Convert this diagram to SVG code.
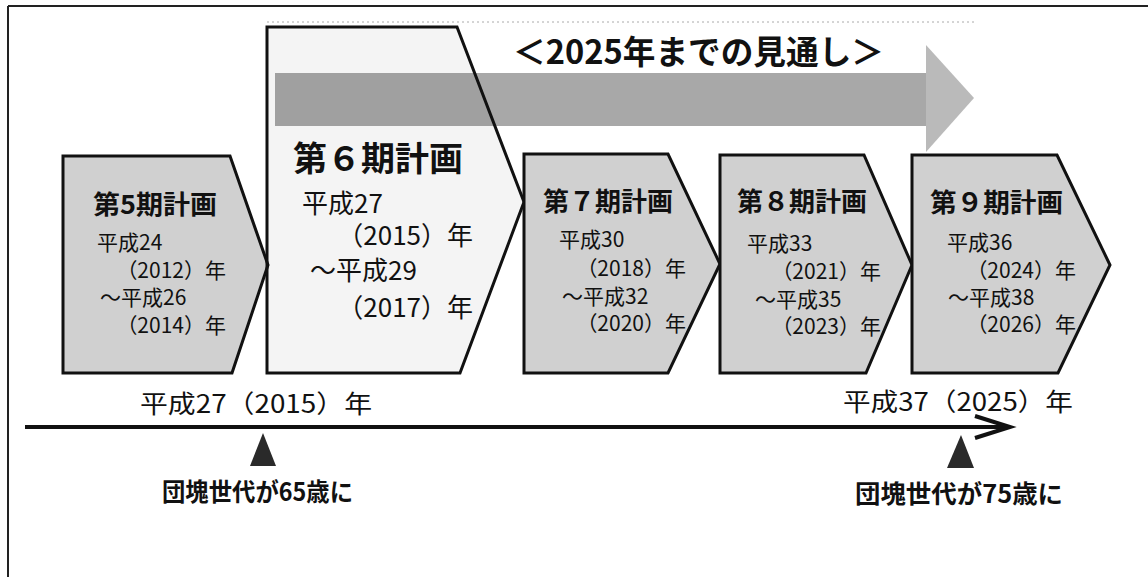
<svg xmlns="http://www.w3.org/2000/svg" width="1148" height="577" viewBox="0 0 1148 577">
<style>
text{font-family:"Noto Sans CJK JP","Noto Sans",sans-serif;fill:#111}
.plan{fill:#d0d0d0;stroke:#111;stroke-width:3;stroke-linejoin:miter}
.head{font-size:26px;font-weight:bold}
.d{font-size:21px}
.d6{font-size:26px}
.lbl{font-size:25px}
.gen{font-size:25px;font-weight:bold}
.tri{fill:#2a2a2a}
</style>
<rect width="1148" height="577" fill="#fff"/>
<g id="frame" stroke="#222" stroke-width="2" fill="none">
<line x1="8" y1="6" x2="1148" y2="6"/>
<line x1="8" y1="6" x2="8" y2="577"/>
<line x1="267" y1="22" x2="975" y2="22" stroke="#aaa" stroke-width="1" stroke-dasharray="2 3"/>
</g>
<g id="outlook">
<rect x="275" y="73" width="652" height="53" fill="#a8a8a8"/>
<polygon points="926,45 974,98 926,152" fill="#bababa"/>
<text x="513" y="64" font-size="33" font-weight="bold" textLength="371" lengthAdjust="spacingAndGlyphs">＜2025年までの見通し＞</text>
</g>
<g id="plan5">
<polygon class="plan" points="63,156 230,156 268,265 232,373 63,373"/>
<text class="head" x="93" y="214" textLength="124" lengthAdjust="spacingAndGlyphs">第5期計画</text>
<text class="d" x="97" y="250">平成24</text>
<text class="d" x="226" y="278" text-anchor="end">（2012）年</text>
<text class="d" x="100" y="305">～平成26</text>
<text class="d" x="226" y="333" text-anchor="end">（2014）年</text>
</g>
<g id="plan6">
<polygon points="267,27 457,27 524,202 460,373 267,373" fill="#000" fill-opacity="0.045" stroke="#111" stroke-width="3"/>
<text x="293" y="171" font-size="34" font-weight="bold" textLength="170" lengthAdjust="spacingAndGlyphs">第６期計画</text>
<text class="d6" x="302" y="213">平成27</text>
<text class="d6" x="473" y="245" text-anchor="end">（2015）年</text>
<text class="d6" x="310" y="280">～平成29</text>
<text class="d6" x="473" y="317" text-anchor="end">（2017）年</text>
</g>
<g id="plan7">
<polygon class="plan" points="524,154 668,154 720,264 668,373 524,373"/>
<text class="head" x="543" y="211" textLength="130" lengthAdjust="spacingAndGlyphs">第７期計画</text>
<text class="d" x="559" y="247">平成30</text>
<text class="d" x="686" y="276" text-anchor="end">（2018）年</text>
<text class="d" x="562" y="304">～平成32</text>
<text class="d" x="686" y="331" text-anchor="end">（2020）年</text>
</g>
<g id="plan8">
<polygon class="plan" points="720,155 864,155 912,265 866,373 720,373"/>
<text class="head" x="737" y="211" textLength="130" lengthAdjust="spacingAndGlyphs">第８期計画</text>
<text class="d" x="747" y="251">平成33</text>
<text class="d" x="881" y="279" text-anchor="end">（2021）年</text>
<text class="d" x="755" y="307">～平成35</text>
<text class="d" x="881" y="334" text-anchor="end">（2023）年</text>
</g>
<g id="plan9">
<polygon class="plan" points="912,155 1057,155 1110,265 1058,373 912,373"/>
<text class="head" x="930" y="212" textLength="133" lengthAdjust="spacingAndGlyphs">第９期計画</text>
<text class="d" x="947" y="250">平成36</text>
<text class="d" x="1076" y="278" text-anchor="end">（2024）年</text>
<text class="d" x="948" y="305">～平成38</text>
<text class="d" x="1076" y="332" text-anchor="end">（2026）年</text>
</g>
<g id="connectors" fill="none" stroke="#111" stroke-width="4">
<line x1="25" y1="427" x2="1008" y2="427"/>
<polyline points="975,416 1010,427 975,438" stroke-linejoin="miter"/>
</g>
<g id="mark2015">
<text class="lbl" x="140" y="413" textLength="232" lengthAdjust="spacingAndGlyphs">平成27（2015）年</text>
<polygon class="tri" points="263,433 276,466 250,466"/>
<text class="gen" x="162" y="501" textLength="191" lengthAdjust="spacingAndGlyphs">団塊世代が65歳に</text>
</g>
<g id="mark2025">
<text class="lbl" x="843" y="411" textLength="230" lengthAdjust="spacingAndGlyphs">平成37（2025）年</text>
<polygon class="tri" points="961,435 974,468 947,468"/>
<text class="gen" x="855" y="503" textLength="208" lengthAdjust="spacingAndGlyphs">団塊世代が75歳に</text>
</g>
</svg>
